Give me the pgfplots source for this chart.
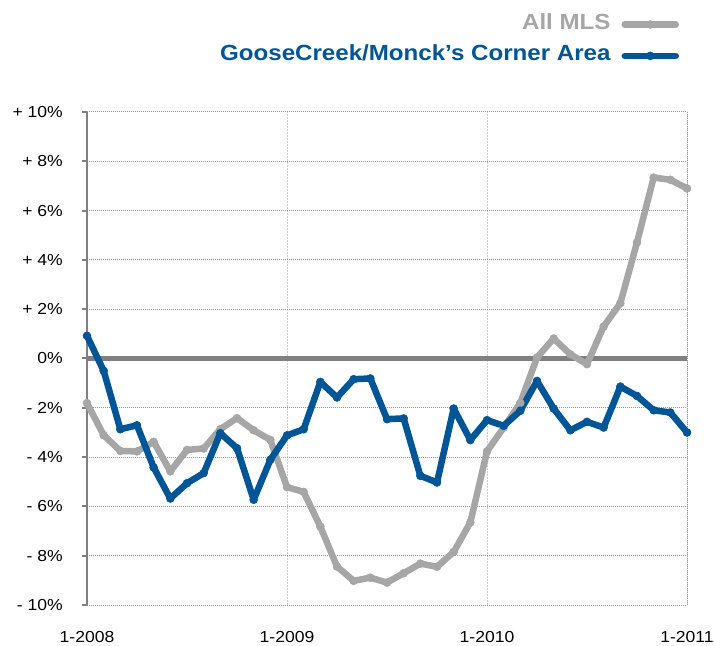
\documentclass[border=0pt]{standalone}
\usepackage{pgfplots}
\pgfplotsset{compat=1.18}
\usepackage{fontspec}
\setmainfont[FakeStretch=1.1]{Liberation Sans}
\definecolor{mlsgray}{RGB}{166,166,166}
\definecolor{gcblue}{RGB}{0,85,150}
\definecolor{axgray}{RGB}{128,128,128}
\definecolor{gridgray}{RGB}{150,150,150}
\definecolor{vgridgray}{RGB}{205,205,205}

\pgfplotstableread{
m v
0 -1.81
1 -3.11
2 -3.75
3 -3.77
4 -3.38
5 -4.58
6 -3.71
7 -3.65
8 -2.87
9 -2.42
10 -2.91
11 -3.30
12 -5.22
13 -5.41
14 -6.82
15 -8.44
16 -9.02
17 -8.89
18 -9.09
19 -8.71
20 -8.32
21 -8.45
22 -7.85
23 -6.65
24 -3.77
25 -2.80
26 -1.80
27 0.04
28 0.81
29 0.17
30 -0.23
31 1.30
32 2.24
33 4.71
34 7.34
35 7.25
36 6.90
}\mlsdata

\pgfplotstableread{
m v
0 0.92
1 -0.50
2 -2.87
3 -2.71
4 -4.42
5 -5.68
6 -5.06
7 -4.65
8 -3.03
9 -3.64
10 -5.73
11 -4.11
12 -3.12
13 -2.87
14 -0.95
15 -1.58
16 -0.84
17 -0.81
18 -2.46
19 -2.43
20 -4.76
21 -5.03
22 -2.03
23 -3.31
24 -2.50
25 -2.73
26 -2.12
27 -0.91
28 -2.03
29 -2.91
30 -2.57
31 -2.80
32 -1.14
33 -1.52
34 -2.10
35 -2.19
36 -3.00
}\gcdata

\begin{document}
\begin{tikzpicture}
\begin{axis}[
  name=ax,
  scale only axis,
  width=600bp, height=493bp,
  xmin=0, xmax=36, ymin=-10, ymax=10,
  clip=false,
  axis y line*=left, axis x line*=bottom,
  y axis line style={draw=axgray, line width=2.5bp, -},
  x axis line style={draw=none, -},
  xtick={0,12,24,36},
  xticklabels={1-2008,1-2009,1-2010,1-2011},
  ytick={-10,-8,...,10},
  yticklabels={- 10\%,- 8\%,- 6\%,- 4\%,- 2\%,0\%,+ 2\%,+ 4\%,+ 6\%,+ 8\%,+ 10\%},
  tick align=outside,
  major tick length=5bp,
  ytick style={draw=axgray, line width=2bp},
  xtick style={draw=none},
  tick label style={font=\fontsize{16}{19}\selectfont, text=black},
  yticklabel style={anchor=east, inner sep=0pt, xshift=-19bp},
  xticklabel style={anchor=north, inner sep=0pt, yshift=-21bp},
  xmajorgrids, ymajorgrids,
  major y grid style={draw=gridgray, line width=1bp, dash pattern=on 1bp off 1bp},
  major x grid style={draw=vgridgray, line width=1bp, dash pattern=on 2bp off 1bp},
  legend cell align=right,
  legend plot pos=right,
  legend image code/.code={\draw[mark repeat=2,mark phase=2,#1] plot coordinates {(0bp,-3bp) (25.5bp,-3bp) (51bp,-3bp)};},
  legend style={draw=none, fill=none, at={(0.987,1.2002)}, anchor=north east,
    inner sep=0pt, row sep=15.4bp,
    font=\fontsize{22}{26}\selectfont\bfseries,
    nodes={inner sep=0pt, text height=16bp, text depth=0bp},
    /tikz/every odd column/.append style={column sep=11bp}},
]
\draw[axgray, line width=4.5bp] (axis cs:0,0) -- (axis cs:36,0);
\draw[gridgray, line width=1bp, dash pattern=on 1bp off 1bp] (axis cs:36,-10) -- (axis cs:36,10);
\addplot[mlsgray, line width=6.5bp, line join=round, line cap=round, mark=*, mark size=4bp, mark options={fill=mlsgray, draw=mlsgray, line width=0.5bp, solid}] table[x=m, y=v] {\mlsdata};
\addlegendentry{\textcolor{mlsgray}{All MLS}}
\addplot[gcblue, line width=6.5bp, line join=round, line cap=round, mark=*, mark size=4bp, mark options={fill=gcblue, draw=gcblue, line width=0.5bp, solid}] table[x=m, y=v] {\gcdata};
\addlegendentry{\textcolor{gcblue}{GooseCreek/Monck’s Corner Area}}
\end{axis}
\path ([shift={(-87bp,-41bp)}]ax.south west) rectangle ([shift={(27bp,112bp)}]ax.north east);
\end{tikzpicture}
\end{document}
